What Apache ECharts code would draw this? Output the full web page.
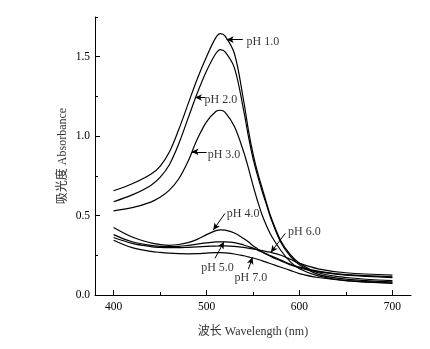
<!DOCTYPE html>
<html>
<head>
<meta charset="utf-8">
<script src="https://cdn.jsdelivr.net/npm/echarts@6/dist/echarts.min.js"></script>
<style>
html,body{margin:0;padding:0;background:#fff;}
#chart{width:430px;height:349px;}
</style>
</head>
<body>
<div id="chart"></div>
<script>
// Wavelength grid (nm)
const wavelengths = [400,420,440,450,460,470,480,490,500,510,515,520,530,540,545,550,555,560,565,570,580,590,600,620,650,700];
// Absorbance per pH
const pH1 = [0.656,0.70,0.76,0.81,0.90,1.04,1.20,1.36,1.50,1.62,1.645,1.63,1.52,1.22,1.04,0.89,0.77,0.67,0.57,0.48,0.34,0.255,0.20,0.14,0.11,0.09];
const pH2 = [0.587,0.63,0.69,0.74,0.82,0.95,1.11,1.27,1.41,1.52,1.545,1.53,1.43,1.16,1.00,0.86,0.75,0.65,0.56,0.47,0.33,0.245,0.19,0.13,0.10,0.082];
const pH3 = [0.53,0.55,0.585,0.615,0.66,0.73,0.84,0.98,1.09,1.155,1.163,1.15,1.06,0.90,0.80,0.69,0.59,0.50,0.43,0.37,0.28,0.21,0.165,0.12,0.09,0.075];
const pH4 = [0.425,0.365,0.328,0.318,0.313,0.318,0.33,0.35,0.38,0.405,0.41,0.408,0.39,0.355,0.335,0.31,0.29,0.27,0.255,0.24,0.215,0.19,0.17,0.145,0.125,0.11];
const pH5 = [0.38,0.335,0.312,0.306,0.304,0.306,0.312,0.32,0.328,0.334,0.335,0.335,0.33,0.315,0.305,0.295,0.282,0.27,0.257,0.245,0.22,0.195,0.175,0.15,0.128,0.115];
const pH6 = [0.362,0.325,0.305,0.30,0.298,0.298,0.30,0.303,0.306,0.308,0.309,0.309,0.306,0.30,0.295,0.29,0.285,0.279,0.273,0.267,0.25,0.225,0.20,0.165,0.14,0.125];
const pH7 = [0.345,0.298,0.275,0.268,0.263,0.26,0.259,0.26,0.264,0.267,0.267,0.265,0.258,0.247,0.24,0.233,0.225,0.215,0.205,0.195,0.175,0.155,0.135,0.11,0.09,0.075];
const seriesNames = ['pH 1.0','pH 2.0','pH 3.0','pH 4.0','pH 5.0','pH 6.0','pH 7.0'];
const seriesValues = [pH1,pH2,pH3,pH4,pH5,pH6,pH7];

// Tick values
const xMajorTicks = [400,500,600,700];
const xMinorTicks = [450,550,650];
const yMajorTicks = [0,0.5,1.0,1.5];
const yMinorTicks = [0.25,0.75,1.25,1.75];

// Annotation anchors in data units: arrow tail, arrow tip, text centre
const labelText  = ['pH 1.0','pH 2.0','pH 3.0','pH 4.0','pH 5.0','pH 6.0','pH 7.0'];
const arrowTail  = [[539,1.608],[498.3,1.243],[500.1,0.901],[519.9,0.514],[509.1,0.231],[584.7,0.388],[545,0.162]];
const arrowTip   = [[521.7,1.608],[487.5,1.243],[483.9,0.901],[507.2,0.409],[518.8,0.335],[569.2,0.268],[549.4,0.237]];
const labelPos   = [[560.6,1.593],[515.5,1.226],[518.8,0.88],[539.3,0.514],[511.8,0.174],[605.2,0.398],[547.7,0.111]];

const FONT = '"Liberation Serif","Noto Sans CJK SC",serif';

const chart = echarts.init(document.getElementById('chart'), null, {renderer:'canvas'});

const lineSeries = seriesValues.map((vals, i) => ({
  name: seriesNames[i],
  type: 'line',
  xAxisIndex: 0, yAxisIndex: 0,
  data: wavelengths.map((w, k) => [w, vals[k]]),
  smooth: 0.35,
  showSymbol: false,
  symbol: 'none',
  lineStyle: {color:'#000', width:1.2},
  z: 2
}));

const arrowSeries = {
  type: 'line', data: [], xAxisIndex:0, yAxisIndex:0,
  markLine: {
    silent: true,
    symbol: ['none','arrow'],
    symbolSize: [5,7],
    label: {show:false},
    lineStyle: {color:'#000', width:1, type:'solid'},
    data: arrowTail.map((t, i) => [{coord: t}, {coord: arrowTip[i]}])
  }
};

const textSeries = {
  type: 'scatter', xAxisIndex:0, yAxisIndex:0,
  symbolSize: 0,
  data: labelPos.map((p, i) => ({value: p, name: labelText[i]})),
  label: {
    show: true, position: 'inside', formatter: '{b}',
    color: '#000', fontSize: 12, fontFamily: FONT,
    align: 'center', verticalAlign: 'middle'
  },
  z: 5
};

const option = {
  animation: false,
  backgroundColor: '#fff',
  grid: {left:95, right:19, top:17, bottom:54, containLabel:false},
  xAxis: [{
    type:'value', min:380, max:720, position:'bottom',
    name:'波长 Wavelength (nm)', nameLocation:'middle', nameGap:31, nameMoveOverlap:false,
    nameTextStyle:{color:'#333', fontSize:12, fontFamily:FONT},
    axisLine:{show:true, onZero:false, lineStyle:{color:'#000', width:1}},
    axisTick:{show:true, inside:true, length:5, customValues:xMajorTicks, lineStyle:{color:'#000', width:1}},
    axisLabel:{show:true, customValues:xMajorTicks, color:'#000', fontSize:11.5, margin:6, fontFamily:FONT},
    splitLine:{show:false}
  },{
    type:'value', min:380, max:720, position:'bottom',
    axisLine:{show:false},
    axisTick:{show:true, inside:true, length:3, customValues:xMinorTicks, lineStyle:{color:'#000', width:1}},
    axisLabel:{show:false, customValues:xMinorTicks},
    splitLine:{show:false}
  }],
  yAxis: [{
    type:'value', min:0, max:1.75, position:'left',
    name:'吸光度 Absorbance', nameLocation:'middle', nameGap:26, nameRotate:90, nameMoveOverlap:false,
    nameTextStyle:{color:'#333', fontSize:12, fontFamily:FONT},
    axisLine:{show:true, onZero:false, lineStyle:{color:'#000', width:1}},
    axisTick:{show:true, inside:true, length:5, customValues:yMajorTicks, lineStyle:{color:'#000', width:1}},
    axisLabel:{show:true, customValues:yMajorTicks, color:'#000', fontSize:11.5, margin:5, fontFamily:FONT,
      formatter: v => v.toFixed(1)},
    splitLine:{show:false}
  },{
    type:'value', min:0, max:1.75, position:'left',
    axisLine:{show:false},
    axisTick:{show:true, inside:true, length:3, customValues:yMinorTicks, lineStyle:{color:'#000', width:1}},
    axisLabel:{show:false, customValues:yMinorTicks},
    splitLine:{show:false}
  }],
  series: [...lineSeries, arrowSeries, textSeries]
};
chart.setOption(option);
</script>
</body>
</html>
